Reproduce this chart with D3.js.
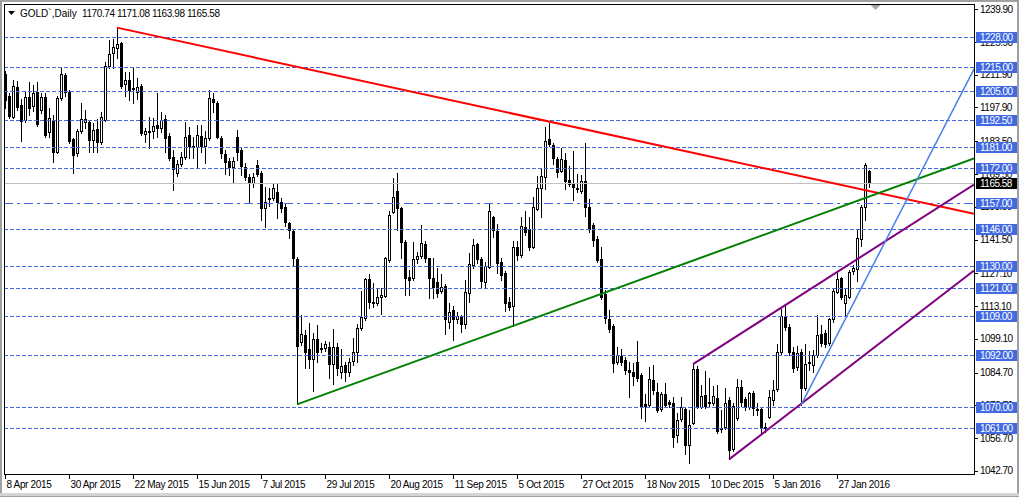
<!DOCTYPE html>
<html><head><meta charset="utf-8">
<script src="https://cdn.jsdelivr.net/npm/d3@7"></script>
<style>
body{margin:0;background:#fff;}
svg{display:block;font-family:"Liberation Sans",Arial,sans-serif;}
</style>
</head><body>
<svg id="chart" width="1019" height="497"></svg>
<script>
// ---- DATA ----
const symbolTitle = "GOLD`,Daily";
const lastOHLC = [1170.74, 1171.08, 1163.98, 1165.58];
const bidPrice = 1165.58;

const openP = [1212.2,1202.9,1194.0,1206.6,1199.0,1192.5,1202.5,1198.5,1204.6,1196.8,
1202.5,1187.3,1192.5,1179.0,1201.8,1211.8,1204.6,1184.4,1178.5,1187.8,
1191.8,1191.8,1184.0,1188.7,1183.3,1192.7,1215.5,1221.0,1223.4,1225.3,
1207.8,1209.6,1206.3,1204.4,1207.2,1186.4,1187.4,1187.8,1190.4,1189.0,
1192.8,1185.7,1176.9,1169.8,1173.6,1176.6,1186.1,1181.6,1181.1,1185.7,
1181.6,1184.7,1201.5,1199.7,1185.0,1177.9,1175.2,1172.6,1185.1,1179.7,
1172.3,1168.1,1165.6,1173.3,1169.8,1154.8,1159.3,1159.3,1161.9,1157.4,
1155.4,1148.4,1145.1,1133.2,1097.8,1100.7,1094.7,1090.4,1099.0,1095.3,
1095.0,1095.7,1088.4,1095.7,1084.8,1087.9,1084.8,1089.6,1093.6,1103.8,
1108.1,1124.6,1114.9,1114.2,1117.1,1117.5,1132.7,1153.4,1162.2,1155.1,
1140.5,1125.5,1125.2,1133.2,1134.6,1139.4,1133.5,1124.9,1123.5,1119.6,
1121.6,1106.4,1111.4,1107.4,1108.5,1105.4,1118.8,1130.6,1139.6,1133.0,
1123.5,1129.9,1151.0,1145.3,1132.0,1127.3,1114.9,1113.1,1138.2,1134.9,
1147.0,1145.9,1138.4,1154.6,1163.4,1168.3,1184.4,1181.9,1175.9,1170.9,
1175.5,1166.9,1165.8,1163.6,1162.4,1166.5,1155.5,1147.7,1141.6,1133.0,
1118.2,1107.5,1104.5,1089.3,1091.7,1090.0,1085.7,1085.0,1089.3,1083.6,
1071.2,1070.8,1081.5,1076.5,1069.0,1075.5,1072.1,1071.6,1058.0,1064.7,
1069.0,1053.7,1063.2,1086.0,1070.1,1075.1,1072.2,1071.5,1073.7,1061.0,
1061.3,1072.9,1051.9,1065.1,1078.6,1073.2,1070.1,1076.1,1069.1,1069.0,
1060.9,1065.6,1072.9,1077.5,1093.6,1108.8,1104.0,1093.6,1087.2,1093.6,
1077.9,1089.3,1087.9,1092.1,1101.1,1101.5,1097.2,1107.4,1119.2,1124.9,
1114.2,1117.1,1128.2,1128.8,1141.6,1155.2,1170.74];

const highP = [1213.5,1204.0,1209.6,1209.2,1201.5,1205.0,1208.9,1207.5,1208.9,1204.1,
1204.1,1197.7,1194.7,1202.8,1214.8,1212.6,1205.4,1184.8,1188.7,1199.7,
1196.8,1192.5,1191.3,1193.0,1196.0,1217.5,1226.7,1227.1,1232.0,1226.0,
1213.0,1213.0,1214.8,1210.5,1207.9,1189.1,1194.0,1193.4,1203.9,1195.8,
1194.7,1187.0,1179.7,1175.5,1178.9,1191.8,1189.7,1185.4,1190.4,1190.4,
1187.8,1205.4,1203.9,1200.6,1185.7,1179.7,1176.4,1176.9,1188.3,1180.6,
1174.0,1169.3,1169.7,1175.5,1170.7,1164.1,1163.5,1165.5,1165.1,1159.3,
1156.7,1149.1,1145.6,1134.0,1109.2,1102.8,1105.7,1101.4,1105.0,1097.3,
1098.0,1097.6,1103.1,1097.3,1094.7,1089.3,1090.7,1099.5,1105.3,1119.5,
1125.2,1126.6,1122.9,1120.8,1120.8,1134.1,1153.7,1167.9,1169.8,1155.5,
1141.3,1128.5,1140.5,1136.3,1147.7,1140.9,1133.7,1133.6,1129.2,1126.8,
1122.5,1114.5,1113.1,1110.7,1109.2,1124.2,1135.6,1141.6,1140.1,1134.1,
1132.0,1157.0,1151.5,1148.1,1133.6,1128.2,1116.8,1141.0,1141.0,1151.0,
1153.7,1151.0,1159.5,1168.6,1171.9,1189.7,1191.1,1182.6,1176.6,1180.4,
1178.3,1172.9,1179.4,1169.5,1169.1,1182.8,1158.7,1148.5,1143.0,1138.4,
1119.9,1111.4,1105.4,1095.4,1094.6,1091.3,1089.3,1088.9,1098.2,1084.5,
1075.5,1087.2,1087.9,1080.1,1076.5,1080.1,1073.0,1074.1,1067.2,1074.3,
1069.5,1068.6,1088.3,1087.5,1079.3,1085.4,1082.2,1078.9,1079.3,1068.7,
1078.2,1074.2,1071.8,1081.8,1081.3,1074.3,1076.5,1076.9,1071.5,1069.5,
1063.0,1077.2,1081.5,1096.9,1111.7,1113.1,1105.4,1095.7,1096.2,1094.6,
1096.7,1094.1,1094.3,1109.2,1105.0,1102.8,1107.8,1120.2,1127.3,1125.6,
1120.2,1128.5,1130.6,1145.9,1156.2,1174.0,1171.08];

const lowP = [1197.5,1193.4,1193.4,1197.0,1183.6,1191.5,1194.7,1196.4,1190.0,1195.5,
1185.3,1185.5,1174.7,1178.4,1201.1,1203.0,1182.7,1169.9,1177.3,1187.0,
1189.0,1179.0,1179.0,1179.0,1182.5,1192.1,1214.7,1214.8,1219.0,1206.2,
1203.0,1201.1,1200.0,1201.5,1186.1,1183.3,1180.5,1185.0,1185.5,1187.5,
1179.0,1175.5,1162.6,1168.7,1172.9,1175.9,1176.3,1176.3,1171.9,1178.9,
1174.0,1184.0,1196.0,1184.8,1176.2,1169.3,1169.0,1166.2,1175.5,1169.0,
1166.9,1157.0,1164.1,1168.6,1149.8,1147.0,1155.8,1158.4,1150.8,1153.2,
1147.3,1142.3,1130.6,1071.1,1096.4,1086.7,1086.7,1076.8,1089.3,1093.4,
1093.9,1082.2,1079.6,1083.6,1082.2,1081.1,1083.3,1087.9,1089.3,1102.8,
1107.1,1112.1,1112.7,1113.5,1109.5,1116.9,1131.9,1152.8,1145.6,1133.7,
1117.8,1117.8,1124.2,1131.5,1133.6,1131.8,1116.4,1116.5,1116.8,1118.6,
1101.1,1103.6,1098.6,1105.7,1102.0,1103.6,1115.0,1129.3,1131.5,1120.6,
1121.3,1129.3,1142.6,1127.3,1124.2,1111.0,1111.4,1104.6,1132.7,1134.0,
1143.4,1137.0,1137.9,1154.0,1151.2,1162.9,1181.4,1173.7,1168.3,1170.3,
1163.1,1164.3,1158.4,1161.8,1161.4,1151.5,1144.7,1138.7,1131.9,1116.1,
1106.0,1102.0,1085.0,1088.3,1087.9,1084.0,1074.2,1079.4,1081.0,1065.3,
1064.1,1070.1,1075.5,1067.8,1068.2,1070.1,1070.1,1052.8,1055.1,1064.0,
1049.9,1046.1,1062.7,1069.5,1069.5,1069.5,1070.4,1070.8,1058.7,1059.3,
1060.5,1047.6,1051.2,1064.4,1070.5,1068.9,1069.0,1066.5,1066.5,1059.0,
1059.1,1065.1,1070.8,1076.8,1092.1,1102.8,1092.1,1084.9,1085.6,1070.8,
1077.2,1085.7,1085.0,1091.3,1096.0,1095.8,1096.4,1106.4,1118.6,1116.1,
1109.1,1116.5,1126.8,1123.9,1138.7,1149.8,1163.98];

const closeP = [1201.0,1194.4,1207.1,1198.2,1192.3,1202.4,1197.8,1204.1,1190.7,1202.5,
1186.1,1193.5,1179.0,1201.8,1212.1,1204.6,1183.6,1177.6,1187.8,1192.8,
1192.8,1184.0,1188.3,1183.3,1193.7,1215.5,1220.6,1223.6,1224.9,1207.2,
1209.6,1205.4,1205.8,1206.6,1186.9,1187.8,1187.8,1189.8,1189.0,1192.5,
1185.0,1176.4,1171.6,1173.6,1176.9,1185.4,1181.6,1181.0,1186.1,1181.6,
1185.0,1201.8,1200.1,1185.4,1178.3,1174.7,1172.6,1175.2,1179.0,1172.9,
1168.3,1165.6,1168.1,1169.4,1154.8,1157.4,1158.8,1163.4,1157.6,1155.1,
1148.8,1145.6,1133.7,1096.1,1101.0,1093.6,1090.4,1099.0,1093.6,1094.7,
1096.7,1088.2,1095.6,1086.7,1087.6,1084.8,1089.0,1093.6,1103.8,1108.5,
1124.6,1114.7,1114.2,1117.1,1117.8,1133.7,1152.0,1159.8,1154.8,1140.3,
1124.9,1124.2,1133.2,1134.6,1139.9,1133.7,1124.9,1121.3,1118.8,1121.1,
1107.4,1110.7,1107.4,1108.8,1105.4,1119.2,1131.0,1139.1,1133.0,1123.9,
1130.2,1153.7,1145.6,1131.6,1126.3,1114.2,1112.8,1138.2,1134.9,1147.3,
1144.8,1138.4,1155.5,1163.6,1168.6,1183.6,1182.3,1176.4,1170.5,1175.8,
1166.5,1165.2,1164.1,1163.1,1166.5,1155.5,1145.9,1141.3,1132.7,1117.1,
1107.8,1103.3,1088.9,1092.1,1089.3,1085.7,1085.0,1083.2,1082.2,1070.1,
1070.4,1081.8,1077.2,1068.7,1075.5,1070.8,1071.2,1057.0,1064.4,1069.8,
1053.7,1062.3,1086.0,1070.1,1074.6,1070.4,1071.8,1074.6,1059.8,1060.6,
1071.8,1051.6,1070.4,1078.6,1072.2,1070.1,1076.1,1069.4,1068.7,1060.9,
1061.3,1074.1,1077.2,1093.6,1108.8,1104.0,1093.6,1086.5,1092.9,1077.9,
1088.3,1088.6,1092.1,1100.7,1097.2,1096.7,1107.4,1119.6,1124.5,1117.1,
1117.8,1127.7,1129.2,1142.0,1155.2,1173.3,1165.58];

const tickBars = [0,16,32,48,64,80,96,112,128,144,160,176,192,208];
const tickLabels = ["8 Apr 2015","30 Apr 2015","22 May 2015","15 Jun 2015","7 Jul 2015",
  "29 Jul 2015","20 Aug 2015","11 Sep 2015","5 Oct 2015","27 Oct 2015",
  "18 Nov 2015","10 Dec 2015","5 Jan 2016","27 Jan 2016"];

const priceTicks = [1239.9,1225.9,1211.9,1197.9,1183.5,1169.5,1155.5,1141.5,1127.1,1113.1,1099.1,1084.7,1070.7,1056.7,1042.7];
const levelPrices = [1228,1215,1205,1192.5,1181,1172,1157,1146,1130,1121,1109,1092,1070,1061];
const dashDotLevel = 1157;

// trendlines: [bar, price] anchors, drawn as rays to the right
const trendA = [28, 1232.0], trendB = [136, 1191.9];        // red
const greenA = [73, 1071.1], greenB = [216, 1159.8];        // green
const purpUpA = [172, 1088.3], purpUpB = [195, 1113.4];     // purple upper
const purpLoA = [181, 1047.6], purpLoB = [199, 1071.3];     // purple lower
const blueA = [199, 1070.8], blueB = [216, 1127.2];         // blue

// ---- LAYOUT ----
const W = 1019, H = 497;
const L = 4, R = 974, T = 4, B = 474;
const blue = "#4169E1";

const svg = d3.select("#chart");
const x = d3.scaleLinear().domain([0, 216]).range([5, 869]);
const y = d3.scaleLinear().domain([1061, 1228]).range([428, 37]);
const rightBar = x.invert(R);
const fmt = d3.format(".2f");
const snap = v => Math.round(v) + 0.5;

// window frame
svg.append("rect").attr("x",0).attr("y",0).attr("width",W).attr("height",H).attr("fill","#fff");
svg.append("rect").attr("x",1).attr("y",1).attr("width",W-2).attr("height",H-2)
  .attr("fill","none").attr("stroke","#a0a0a0").attr("stroke-width",2);
svg.append("line").attr("x1",0).attr("x2",W).attr("y1",494.5).attr("y2",494.5).attr("stroke","#d4d4d4").attr("stroke-width",3);

const defs = svg.append("defs");
defs.append("clipPath").attr("id","plot").append("rect")
  .attr("x",L+1).attr("y",T+1).attr("width",R-L-1).attr("height",B-T-1);

const plot = svg.append("g").attr("clip-path","url(#plot)");

// candles
const idx = d3.range(openP.length);
const cg = plot.append("g").attr("shape-rendering","crispEdges");
idx.forEach(i => {
  const cx = Math.round(x(i));
  const o = openP[i], h = highP[i], l = lowP[i], c = closeP[i];
  cg.append("line").attr("x1",cx+0.5).attr("x2",cx+0.5)
    .attr("y1",Math.round(y(h))).attr("y2",Math.round(y(l))+1)
    .attr("stroke","#000").attr("stroke-width",1);
  const top = Math.round(y(Math.max(o,c))), bot = Math.round(y(Math.min(o,c)));
  cg.append("rect").attr("x",cx-0.5).attr("y",top+0.5)
    .attr("width",2).attr("height",Math.max(bot-top,0))
    .attr("fill", c >= o ? "#fff" : "#000").attr("stroke","#000").attr("stroke-width",1);
});

// bid line
plot.append("line").attr("x1",L).attr("x2",R).attr("y1",snap(y(bidPrice))).attr("y2",snap(y(bidPrice)))
  .attr("stroke","#c0c0c0").attr("stroke-width",1).attr("shape-rendering","crispEdges");

// horizontal levels
plot.selectAll("line.lvl").data(levelPrices).join("line").attr("class","lvl")
  .attr("x1",L).attr("x2",R)
  .attr("y1",d=>snap(y(d))).attr("y2",d=>snap(y(d)))
  .attr("stroke",blue).attr("stroke-width",1).attr("shape-rendering","crispEdges")
  .attr("stroke-dasharray",d=> d===dashDotLevel ? "9,4,3,4" : "4,2");

// trendlines
function ray(a, b, color, width){
  const slope = (b[1]-a[1])/(b[0]-a[0]);
  const endP = a[1] + slope*(rightBar - a[0]);
  plot.append("line")
    .attr("x1",x(a[0])).attr("y1",y(a[1]))
    .attr("x2",x(rightBar)).attr("y2",y(endP))
    .attr("stroke",color).attr("stroke-width",width).attr("stroke-linecap","butt");
}
ray(trendA, trendB, "#ff0000", 2);
ray(greenA, greenB, "#008000", 2);
ray(purpUpA, purpUpB, "#800080", 2);
ray(purpLoA, purpLoB, "#800080", 2);
ray(blueA, blueB, "#4a7fe8", 1.5);

// plot frame
svg.append("rect").attr("x",L+0.5).attr("y",T+0.5).attr("width",R-L).attr("height",B-T)
  .attr("fill","none").attr("stroke","#000").attr("stroke-width",1).attr("shape-rendering","crispEdges");

// chart shift marker
svg.append("path").attr("d","M870.5,5L880.5,5L875.5,10Z").attr("fill","#a8a8a8");

// right axis ticks + labels
const ax = svg.append("g").attr("font-size","10px").attr("letter-spacing","-0.5px");
priceTicks.forEach(p => {
  const yy = snap(y(p));
  ax.append("line").attr("x1",R).attr("x2",R+4).attr("y1",yy).attr("y2",yy)
    .attr("stroke","#000").attr("shape-rendering","crispEdges");
  ax.append("text").attr("x",980).attr("y",y(p)).attr("dy","0.36em").attr("fill","#000").text(fmt(p));
});
// level labels
levelPrices.forEach(p => {
  const yy = Math.round(y(p));
  ax.append("rect").attr("x",976).attr("y",yy-5).attr("width",41).attr("height",11).attr("fill",blue);
  ax.append("text").attr("x",980).attr("y",yy+0.5).attr("dy","0.36em").attr("fill","#fff").text(fmt(p));
});
{
  const yy = Math.round(y(bidPrice));
  ax.append("rect").attr("x",976).attr("y",yy-5).attr("width",41).attr("height",11).attr("fill","#000");
  ax.append("text").attr("x",980).attr("y",yy+0.5).attr("dy","0.36em").attr("fill","#fff").text(fmt(bidPrice));
}

// x axis
const xa = svg.append("g").attr("font-size","10px").attr("letter-spacing","-0.35px");
tickBars.forEach((b,k) => {
  const xx = snap(x(b));
  xa.append("line").attr("x1",xx).attr("x2",xx).attr("y1",B).attr("y2",B+5)
    .attr("stroke","#000").attr("shape-rendering","crispEdges");
  xa.append("text").attr("x",xx+1).attr("y",487.5).attr("fill","#000").text(tickLabels[k]);
});

// title
svg.append("path").attr("d","M8,11L15,11L11.5,15Z").attr("fill","#000");
svg.append("text").attr("x",20).attr("y",16.5).attr("font-size","10px").attr("fill","#000").text(symbolTitle);
svg.append("text").attr("x",82).attr("y",16.5).attr("font-size","10px").attr("letter-spacing","-0.4px")
  .attr("fill","#000").text(lastOHLC.map(fmt).join(" "));
</script>
</body></html>
